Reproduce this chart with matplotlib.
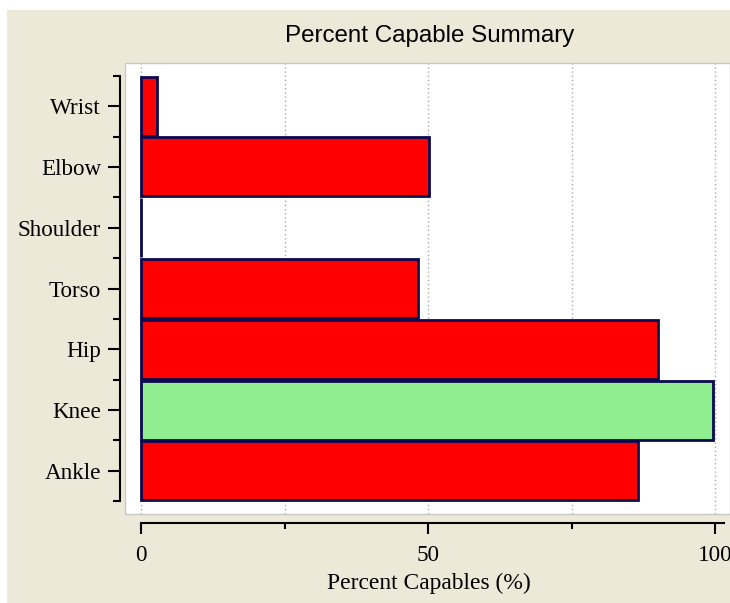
import matplotlib
matplotlib.use("Agg")
import matplotlib.pyplot as plt
from matplotlib.patches import Rectangle
from matplotlib.ticker import FixedLocator

# data (bottom to top)
joints = ["Ankle", "Knee", "Hip", "Torso", "Shoulder", "Elbow", "Wrist"]
capable = [86.6, 99.6, 90.1, 48.3, 0.0, 50.2, 2.8]
bar_colors = ["#ff0000", "#90ee90", "#ff0000", "#ff0000", "#ff0000", "#ff0000", "#ff0000"]

W, H = 730, 603
fig = plt.figure(figsize=(W / 100, H / 100), dpi=100, facecolor="white")

# beige window background
fig.patches.append(Rectangle((7 / W, 0), 1, 1 - 10 / H, transform=fig.transFigure,
                             facecolor="#ece9d8", edgecolor="none", zorder=-10))

ax = fig.add_axes([125 / W, 1 - 514 / H, 605 / W, 451 / H])
ax.set_facecolor("white")

ypos = list(range(len(joints)))
ax.barh(ypos, capable, height=0.97, color=bar_colors, edgecolor="#0a0a50",
        linewidth=2, zorder=3)

ax.set_xlim(-2.79, 102.6)
ax.set_ylim(-0.71, 6.71)

# dotted grid
for gx in [0, 25, 50, 75, 100]:
    ax.axvline(gx, color="#a8a8a8", linestyle=(0, (1, 2)), linewidth=1, zorder=1)

for s in ["top", "right"]:
    ax.spines[s].set_visible(False)
ax.spines["left"].set_position(("outward", 3.6))
ax.spines["bottom"].set_position(("outward", 6.5))
ax.spines["left"].set_bounds(-0.5, 6.5)
ax.spines["bottom"].set_bounds(0, 101.5)
ax.spines["left"].set_linewidth(1.5)
ax.spines["bottom"].set_linewidth(1.5)

# frame around plot area
ax.add_patch(Rectangle((0, 0), 1, 1, transform=ax.transAxes, fill=False,
                       edgecolor="#c8c8c8", linewidth=1, clip_on=False, zorder=0))

ax.set_yticks(ypos)
ax.set_yticklabels(joints)
ax.yaxis.set_minor_locator(FixedLocator([y - 0.5 for y in ypos] + [6.5]))
ax.set_xticks([0, 50, 100])
ax.set_xticklabels(["0", "50", "100"])
ax.xaxis.set_minor_locator(FixedLocator([25, 75]))

ax.tick_params(axis="y", which="major", length=8.6, width=1.5, pad=5, direction="out")
ax.tick_params(axis="y", which="minor", length=5, width=1.5, direction="out")
ax.tick_params(axis="x", which="major", length=8, width=1.5, pad=8, direction="out")
ax.tick_params(axis="x", which="minor", length=4, width=1.5, direction="out")

for lab in ax.get_yticklabels() + ax.get_xticklabels():
    lab.set_fontfamily("Liberation Serif")
    lab.set_fontsize(16.7)

fig.text(430 / W, 1 - 36 / H, "Percent Capable Summary", ha="center", va="center",
         fontsize=17.4, fontfamily="Liberation Sans")
fig.text(429 / W, 1 - 583 / H, "Percent Capables (%)", ha="center", va="center",
         fontsize=16.9, fontfamily="Liberation Serif")

fig.savefig("out.png", dpi=100, facecolor=fig.get_facecolor())
